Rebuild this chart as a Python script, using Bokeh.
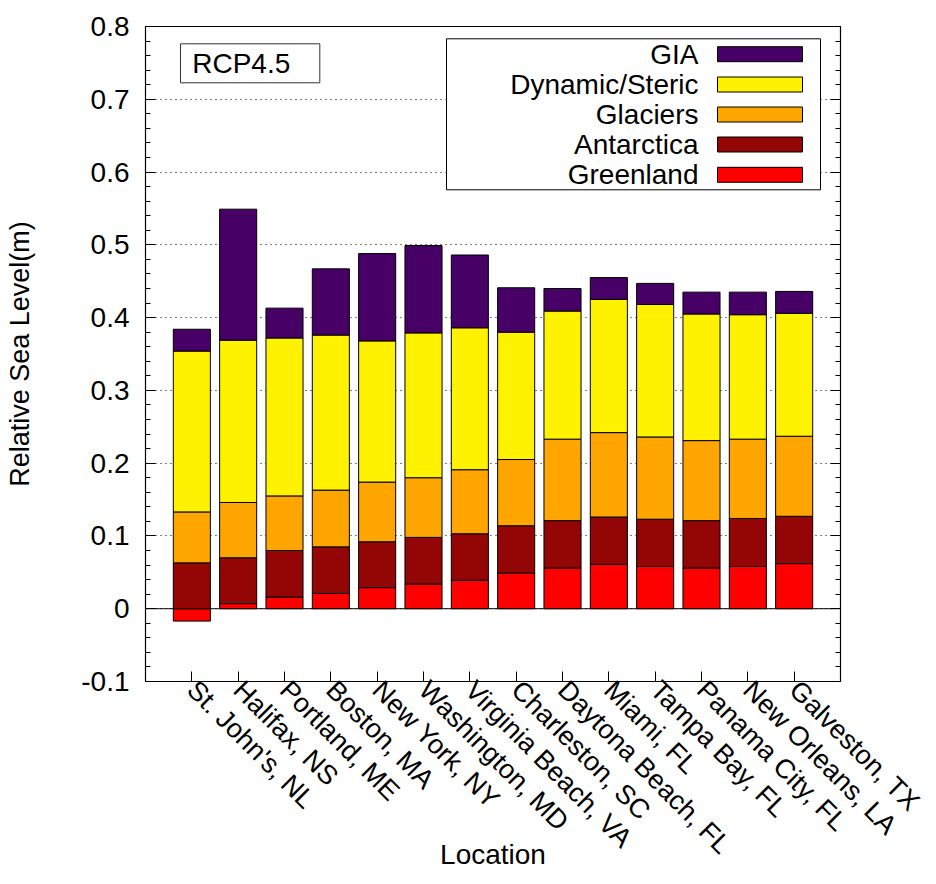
import math
from bokeh.plotting import figure
from bokeh.models import (Range1d, FixedTicker, SingleIntervalTicker, LinearAxis,
                          Span, BoxAnnotation, Label, ColumnDataSource)
from bokeh.embed import file_html
from bokeh.resources import INLINE

# ---------------- data ----------------
categories = ["St. John's, NL", "Halifax, NS", "Portland, ME", "Boston, MA",
              "New York, NY", "Washington, MD", "Virginia Beach, VA",
              "Charleston, SC", "Daytona Beach, FL", "Miami, FL",
              "Tampa Bay, FL", "Panama City, FL", "New Orleans, LA",
              "Galveston, TX"]

greenland  = [-0.017, 0.007, 0.016, 0.021, 0.029, 0.034, 0.039, 0.049, 0.056, 0.061, 0.058, 0.056, 0.058, 0.062]
antarctica = [0.063, 0.063, 0.064, 0.064, 0.063, 0.064, 0.064, 0.065, 0.065, 0.065, 0.065, 0.065, 0.066, 0.065]
glaciers   = [0.070, 0.076, 0.075, 0.078, 0.082, 0.082, 0.088, 0.091, 0.112, 0.116, 0.113, 0.110, 0.109, 0.110]
dynamic    = [0.221, 0.223, 0.217, 0.213, 0.194, 0.199, 0.195, 0.175, 0.176, 0.183, 0.182, 0.174, 0.171, 0.169]
gia        = [0.030, 0.180, 0.041, 0.091, 0.120, 0.120, 0.100, 0.061, 0.031, 0.030, 0.029, 0.030, 0.031, 0.030]

series_names = ["Greenland", "Antarctica", "Glaciers", "Dynamic/Steric", "GIA"]
series_vals = [greenland, antarctica, glaciers, dynamic, gia]
series_colors = ["#ff0000", "#940606", "#ffa500", "#fff200", "#460066"]

y_ticks_step = 0.1
scenario = "RCP4.5"
x_title = "Location"
y_title = "Relative Sea Level(m)"

# ---------------- layout ----------------
FONT = "Liberation Sans"
FS = "28px"
TC = "black"
X0, X1 = -1, len(categories)
Y0, Y1 = -0.1, 0.8
W, H = 928, 876
BL, BT = 145, 26
FW, FH = 695, 655
RL, RT = 145, 26   # reference frame origin (screen px)

def dx(px):
    return X0 + (px - RL) / FW * (X1 - X0)

def dy(py):
    return Y1 - (py - RT) / FH * (Y1 - Y0)

p = figure(width=W, height=H,
           x_range=Range1d(X0, X1), y_range=Range1d(Y0, Y1),
           output_backend="svg", toolbar_location=None,
           min_border_left=BL, min_border_top=BT,
           min_border_right=W - BL - FW, min_border_bottom=H - BT - FH,
           background_fill_color="white", border_fill_color="white")

p.outline_line_color = "black"
p.outline_line_width = 1.2

# grid
p.xgrid.visible = False
p.ygrid.ticker = SingleIntervalTicker(interval=y_ticks_step)
p.ygrid.grid_line_color = "black"
p.ygrid.grid_line_dash = "1 4"
p.ygrid.grid_line_width = 1.2

p.add_layout(Span(location=0, dimension="width", line_color="black",
                  line_width=1, level="underlay"))

# bars (stacked, negatives stacked downward)
xs = list(range(len(categories)))
pos_base = [0.0] * len(categories)
neg_base = [0.0] * len(categories)
for name, vals, col in zip(series_names, series_vals, series_colors):
    bottoms, tops = [], []
    for i, v in enumerate(vals):
        if v >= 0:
            bottoms.append(pos_base[i]); tops.append(pos_base[i] + v)
            pos_base[i] += v
        else:
            bottoms.append(neg_base[i]); tops.append(neg_base[i] + v)
            neg_base[i] += v
    src = ColumnDataSource(dict(x=xs, top=tops, bottom=bottoms))
    p.vbar(x="x", top="top", bottom="bottom", width=0.8, source=src,
           fill_color=col, line_color="black", line_width=1)

# axes
ya = p.yaxis[0]
ya.ticker = SingleIntervalTicker(interval=y_ticks_step, num_minor_ticks=5)
ya.major_label_text_font = FONT
ya.major_label_text_font_size = FS
ya.major_label_text_color = TC
ya.major_label_standoff = 16
ya.major_tick_in = 10
ya.major_tick_out = 0
ya.minor_tick_in = 5
ya.minor_tick_out = 0
ya.axis_line_color = None
ya.major_label_overrides = {0: "0", -0.1: "-0.1"}
ya.axis_label = y_title
ya.axis_label_text_font = FONT
ya.axis_label_text_font_size = "27px"
ya.axis_label_text_font_style = "normal"
ya.axis_label_text_color = TC
ya.axis_label_standoff = 43

ry = LinearAxis(ticker=SingleIntervalTicker(interval=y_ticks_step, num_minor_ticks=5))
ry.major_tick_in = 10
ry.major_tick_out = 0
ry.minor_tick_in = 5
ry.minor_tick_out = 0
ry.axis_line_color = None
ry.major_label_text_font_size = "0px"
ry.major_label_text_color = None
p.add_layout(ry, "right")

xa = p.xaxis[0]
xa.ticker = FixedTicker(ticks=xs)
xa.major_label_overrides = {i: c for i, c in enumerate(categories)}
xa.major_label_orientation = -math.pi / 4
xa.major_label_text_font = FONT
xa.major_label_text_font_size = "27px"
xa.major_label_text_color = TC
xa.major_label_standoff = 4
xa.major_tick_in = 10
xa.major_tick_out = 0
xa.minor_tick_line_color = None
xa.axis_line_color = None
# x title drawn by the axis itself, tucked up among the rotated labels
xa.axis_label = x_title
xa.axis_label_text_font = FONT
xa.axis_label_text_font_size = FS
xa.axis_label_text_font_style = "normal"
xa.axis_label_text_color = TC
xa.axis_label_standoff = -34

# scenario box
p.add_layout(BoxAnnotation(left=dx(180), right=dx(319.3), top=dy(43.3),
                           bottom=dy(82.3), fill_color="white", fill_alpha=1,
                           line_color="#333333", line_width=1, line_alpha=1))
p.add_layout(Label(x=dx(191.7), y=dy(62.8), text=scenario, text_font=FONT,
                   text_font_size=FS, text_color=TC, text_align="left",
                   text_baseline="middle"))

# legend (label left, swatch right)
p.add_layout(BoxAnnotation(left=dx(446), right=dx(820), top=dy(38.3),
                           bottom=dy(189.3), fill_color="white", fill_alpha=1,
                           line_color="black", line_width=1, line_alpha=1))
row_c = [53.7, 84.0, 114.0, 144.0, 174.3]
for k, (name, col) in enumerate(zip(series_names[::-1], series_colors[::-1])):
    c = row_c[k]
    p.add_layout(BoxAnnotation(left=dx(717), right=dx(802), top=dy(c - 7.5),
                               bottom=dy(c + 7.5), fill_color=col, fill_alpha=1,
                               line_color="black", line_width=1, line_alpha=1))
    p.add_layout(Label(x=dx(698), y=dy(c), text=name, text_font=FONT,
                       text_font_size=FS, text_color=TC, text_align="right",
                       text_baseline="middle"))

open("out.html", "w").write(file_html(p, INLINE))
